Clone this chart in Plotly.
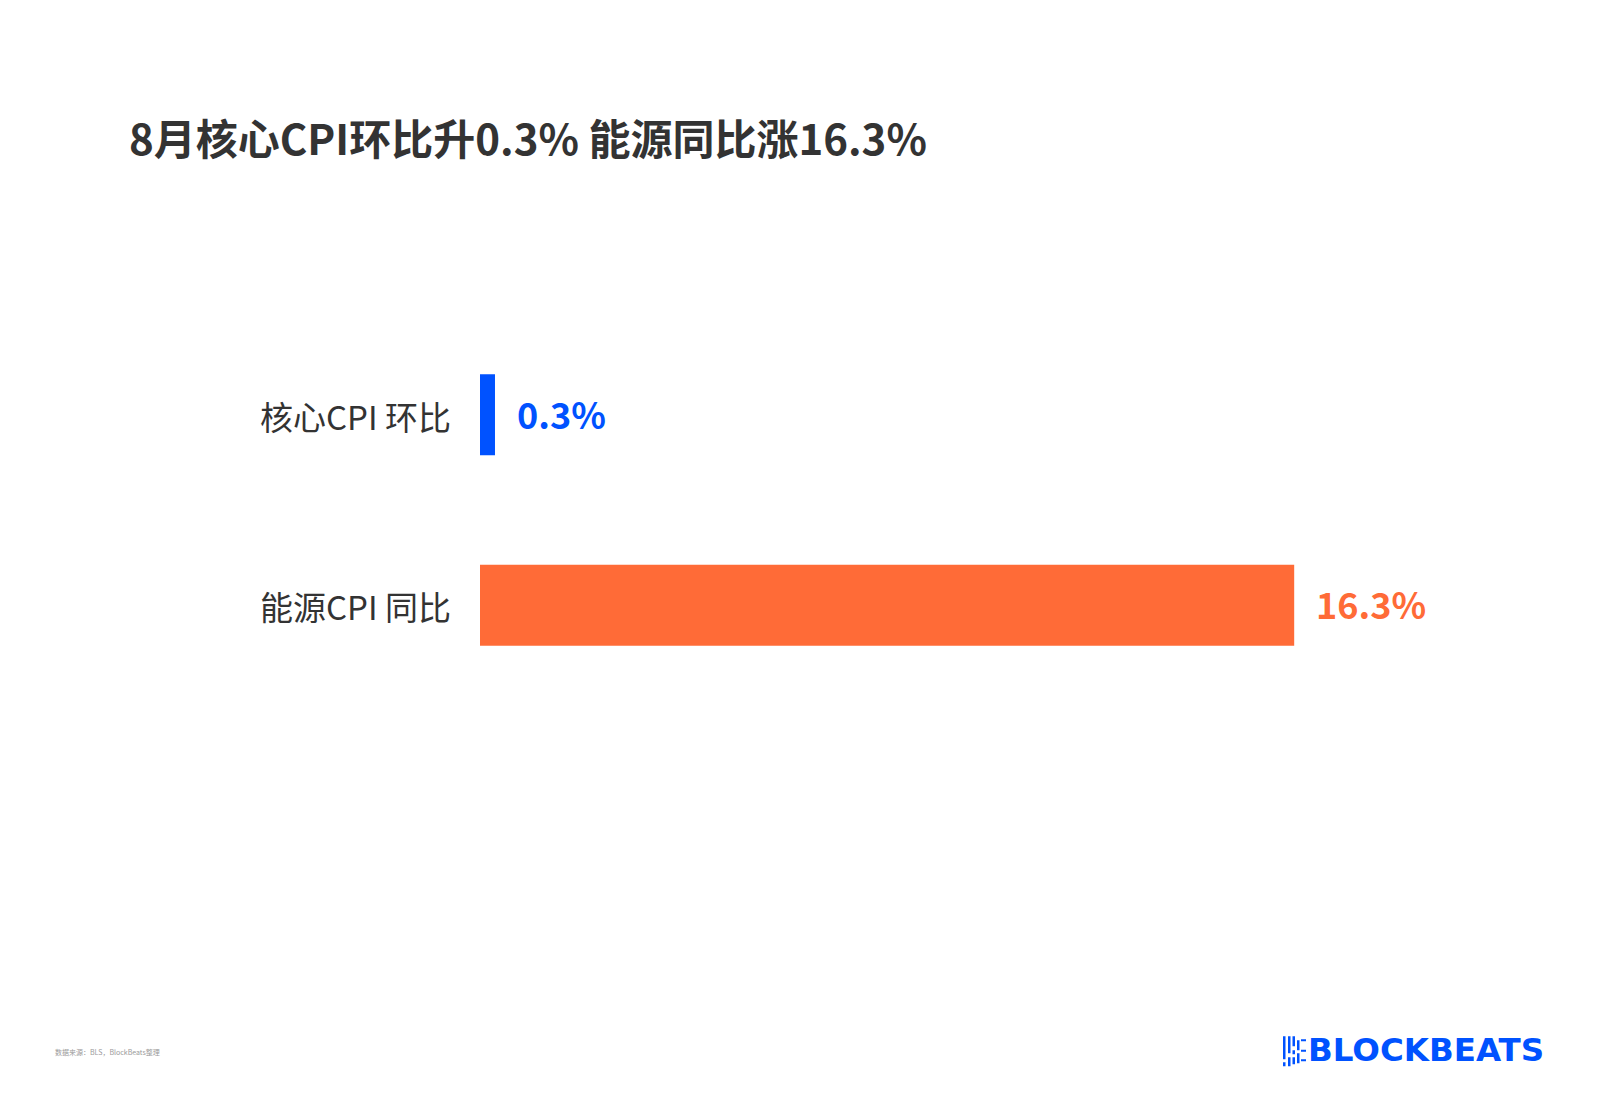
import plotly.graph_objects as go

# ---- data ----
categories = ["核心CPI 环比", "能源CPI 同比"]
values = [0.3, 16.3]
value_labels = ["0.3%", "16.3%"]
bar_colors = ["#0052FF", "#FF6B37"]

title_text = "8月核心CPI环比升0.3% 能源同比涨16.3%"
source_text = "数据来源：BLS，BlockBeats整理"
logo_text = "BLOCKBEATS"

FONT = "Noto Sans CJK SC"
W, H = 1600, 1105
OFF = 8  # page body margin

# plot area (in div pixels)
L = 480 - OFF
PW = 999
T = 414.5 - 1.5 * 190.5 - OFF
PH = 4 * 190.5


def sx(p):  # screen px -> paper x
    return ((p - OFF) - L) / PW


def sy(p):  # screen px -> paper y
    return 1 - ((p - OFF) - T) / PH


y_pos = list(range(len(categories)))

fig = go.Figure()
fig.add_trace(go.Bar(
    x=values,
    y=y_pos,
    orientation="h",
    width=0.425,
    marker=dict(color=bar_colors, line=dict(width=0)),
    hoverinfo="skip",
))

# category labels
for yv, cat in zip(y_pos, categories):
    fig.add_annotation(
        x=0, y=yv, xref="paper", yref="y",
        text=cat, showarrow=False,
        xanchor="right", yanchor="middle", xshift=-27, yshift=-1,
        font=dict(family=FONT, size=33, color="#333333"),
    )

# value labels
for xv, yv, lab, col in zip(values, y_pos, value_labels, bar_colors):
    fig.add_annotation(
        x=xv, y=yv, xref="x", yref="y",
        text=f"<b>{lab}</b>", showarrow=False,
        xanchor="left", yanchor="middle", xshift=20, yshift=2,
        font=dict(family=FONT, size=36, color=col),
    )

# title
fig.add_annotation(
    x=sx(127), y=sy(136), xref="paper", yref="paper",
    text=f"<b>{title_text}</b>", showarrow=False,
    xanchor="left", yanchor="middle",
    font=dict(family=FONT, size=42, color="#333333"),
)
# source
fig.add_annotation(
    x=sx(53), y=sy(1052), xref="paper", yref="paper",
    text=source_text, showarrow=False,
    xanchor="left", yanchor="middle",
    font=dict(family=FONT, size=7, color="#9a9a9a"),
)
# logo text
fig.add_annotation(
    x=sx(1306), y=sy(1050), xref="paper", yref="paper",
    text=f"<b>{logo_text}</b>", showarrow=False,
    xanchor="left", yanchor="middle",
    font=dict(family="DejaVu Sans", size=32.5, color="#0052FF"),
)

# logo icon (screen-pixel rectangles)
icon_rects = [
    (1283, 1036, 1285.5, 1059), (1283, 1062, 1285.5, 1066),
    (1288, 1036, 1290.5, 1053), (1288, 1057, 1290.5, 1066),
    (1292.5, 1036, 1295, 1046), (1292.5, 1050, 1295, 1054), (1292.5, 1057, 1295, 1064),
    (1297, 1040, 1299.5, 1050), (1297, 1053, 1299.5, 1063),
    (1301, 1039, 1306, 1041), (1301, 1049.5, 1306, 1051.5), (1301, 1059, 1306, 1061),
]
for x0, y0, x1, y1 in icon_rects:
    fig.add_shape(type="rect", xref="paper", yref="paper",
                  x0=sx(x0), x1=sx(x1), y0=sy(y0), y1=sy(y1),
                  fillcolor="#0052FF", line=dict(width=0))

fig.update_layout(
    width=W, height=H,
    paper_bgcolor="white", plot_bgcolor="white",
    margin=dict(l=L, r=W - L - PW, t=T, b=H - T - PH, pad=0, autoexpand=False),
    showlegend=False,
    xaxis=dict(range=[0, 20], visible=False, showgrid=False, zeroline=False),
    yaxis=dict(
        range=[2.5, -1.5],
        tickvals=y_pos, showticklabels=False,
        showgrid=False, zeroline=False, showline=False,
        ticks="", automargin=False,
    ),
    font=dict(family=FONT),
)

fig.write_html("out.html")
